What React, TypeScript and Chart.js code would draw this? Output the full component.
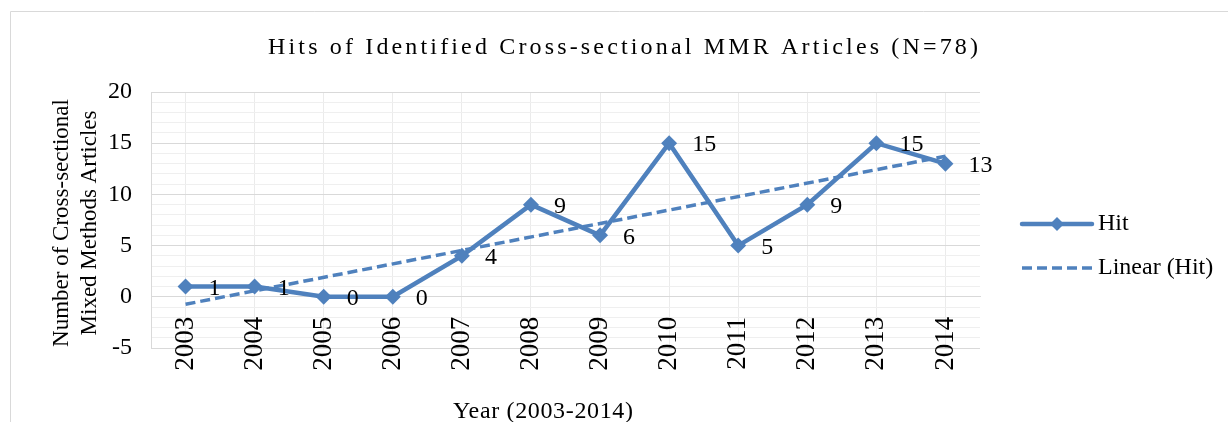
import React, { useEffect, useRef } from "react";
import { Chart, registerables } from "chart.js";

Chart.register(...registerables);

const years = ["2003", "2004", "2005", "2006", "2007", "2008", "2009", "2010", "2011", "2012", "2013", "2014"];
const hits = [1, 1, 0, 0, 4, 9, 6, 15, 5, 9, 15, 13];
const trendEnds = [-0.73, 13.73];
const yTickValues = [-5, 0, 5, 10, 15, 20];

const chartTitle = "Hits of Identified Cross-sectional MMR Articles (N=78)";
const yTitleLines = ["Number of Cross-sectional", "Mixed Methods Articles"];
const xTitle = "Year (2003-2014)";
const legendLabels = ["Hit", "Linear (Hit)"];

const BLUE = "#4F81BD";
const FONT = "'Liberation Serif', 'Times New Roman', serif";

const trendData = years.map((_, i) =>
  i === 0 ? trendEnds[0] : i === years.length - 1 ? trendEnds[1] : null
);

function spacedText(ctx: any, text: string, x: number, y: number, targetW: number) {
  ctx.letterSpacing = "0px";
  const w0 = ctx.measureText(text).width;
  const sp = Math.max(0, (targetW - w0) / (text.length - 1));
  ctx.letterSpacing = `${sp}px`;
  ctx.textAlign = "left";
  ctx.fillText(text, x - targetW / 2, y);
  ctx.letterSpacing = "0px";
}

const decorPlugin = {
  id: "decor",
  afterDatasetsDraw(chart: any) {
    const ctx = chart.ctx;
    const meta = chart.getDatasetMeta(0);
    ctx.save();
    ctx.fillStyle = "#000";
    ctx.font = `24px ${FONT}`;
    ctx.textAlign = "left";
    ctx.textBaseline = "middle";
    meta.data.forEach((pt: any, i: number) => {
      ctx.fillText(String(hits[i]), pt.x + 23, pt.y + 2);
    });
    ctx.restore();
  },
  afterDraw(chart: any) {
    const ctx = chart.ctx;
    ctx.save();
    // outer border
    ctx.strokeStyle = "#d9d9d9";
    ctx.lineWidth = 1;
    ctx.beginPath();
    ctx.moveTo(10.5, 422);
    ctx.lineTo(10.5, 11.5);
    ctx.lineTo(1228, 11.5);
    ctx.stroke();

    ctx.fillStyle = "#000";
    // title with letter spacing
    ctx.font = `24px ${FONT}`;
    ctx.textBaseline = "alphabetic";
    spacedText(ctx, chartTitle, 623, 54, 710);

    // y title
    ctx.font = `23px ${FONT}`;
    ctx.textAlign = "center";
    ctx.textBaseline = "middle";
    const centers = [62, 90];
    yTitleLines.forEach((line, i) => {
      ctx.save();
      ctx.translate(centers[i], 223);
      ctx.rotate(-Math.PI / 2);
      ctx.fillText(line, 0, 0);
      ctx.restore();
    });

    // x title
    ctx.font = `24px ${FONT}`;
    ctx.textBaseline = "alphabetic";
    spacedText(ctx, xTitle, 543, 418, 180);

    // legend
    const lx0 = 1022;
    const lx1 = 1092;
    const rows = [224, 268];
    ctx.strokeStyle = BLUE;
    ctx.lineCap = "round";
    ctx.lineWidth = 4.5;
    ctx.beginPath();
    ctx.moveTo(lx0, rows[0]);
    ctx.lineTo(lx1, rows[0]);
    ctx.stroke();
    ctx.fillStyle = BLUE;
    ctx.beginPath();
    const r = 7;
    const cx = (lx0 + lx1) / 2;
    ctx.moveTo(cx, rows[0] - r);
    ctx.lineTo(cx + r, rows[0]);
    ctx.lineTo(cx, rows[0] + r);
    ctx.lineTo(cx - r, rows[0]);
    ctx.closePath();
    ctx.fill();
    ctx.lineCap = "butt";
    ctx.lineWidth = 3.5;
    ctx.setLineDash([10, 5]);
    ctx.beginPath();
    ctx.moveTo(lx0, rows[1]);
    ctx.lineTo(lx1, rows[1]);
    ctx.stroke();
    ctx.setLineDash([]);
    ctx.fillStyle = "#000";
    ctx.font = `24px ${FONT}`;
    ctx.textAlign = "left";
    ctx.textBaseline = "middle";
    legendLabels.forEach((lab, i) => ctx.fillText(lab, 1098, rows[i]));
    ctx.restore();
  },
};

export default function App() {
  const canvasRef = useRef<HTMLCanvasElement | null>(null);

  useEffect(() => {
    document.body.style.margin = "0";
    document.body.style.overflow = "hidden";
    const canvas = canvasRef.current;
    if (!canvas) return;
    const chart = new Chart(canvas, {
      type: "line",
      data: {
        labels: years,
        datasets: [
          {
            label: legendLabels[0],
            data: hits,
            borderColor: BLUE,
            backgroundColor: BLUE,
            borderWidth: 4.5,
            pointStyle: "rectRot",
            pointRadius: 8,
            pointHoverRadius: 8,
            pointBorderWidth: 0,
            tension: 0,
          },
          {
            label: legendLabels[1],
            data: trendData,
            borderColor: BLUE,
            backgroundColor: BLUE,
            borderWidth: 3.5,
            borderDash: [10, 5],
            pointRadius: 0,
            spanGaps: true,
            tension: 0,
          },
        ],
      },
      options: {
        responsive: true,
        maintainAspectRatio: false,
        animation: false,
        layout: { padding: { top: 92, right: 248, bottom: 74, left: 0 } },
        plugins: {
          legend: { display: false },
          title: { display: false },
          tooltip: { enabled: false },
        },
        scales: {
          x: {
            type: "category",
            offset: true,
            position: { y: 0 } as any,
            grid: { color: "#ebebeb", drawTicks: false, offset: false },
            border: { display: true, color: "#d9d9d9" },
            ticks: {
              color: "#000",
              font: { family: FONT, size: 27 },
              minRotation: 90,
              maxRotation: 90,
              autoSkip: false,
              padding: 20,
            },
          },
          y: {
            min: yTickValues[0],
            max: yTickValues[yTickValues.length - 1],
            grid: {
              drawTicks: false,
              color: (c: any) =>
                c.tick && yTickValues.includes(c.tick.value) ? "#d9d9d9" : "#efefef",
            },
            border: { display: true, color: "#d9d9d9" },
            afterFit: (s: any) => {
              s.width = 151;
            },
            ticks: {
              stepSize: 1,
              autoSkip: false,
              color: "#000",
              padding: 19,
              font: { family: FONT, size: 24 },
              callback: (v: any) => (yTickValues.includes(Number(v)) ? String(v) : ""),
            },
          },
        },
      },
      plugins: [decorPlugin],
    });
    return () => chart.destroy();
  }, []);

  return (
    <div style={{ width: 1228, height: 422, position: "relative" }}>
      <canvas ref={canvasRef} />
    </div>
  );
}
